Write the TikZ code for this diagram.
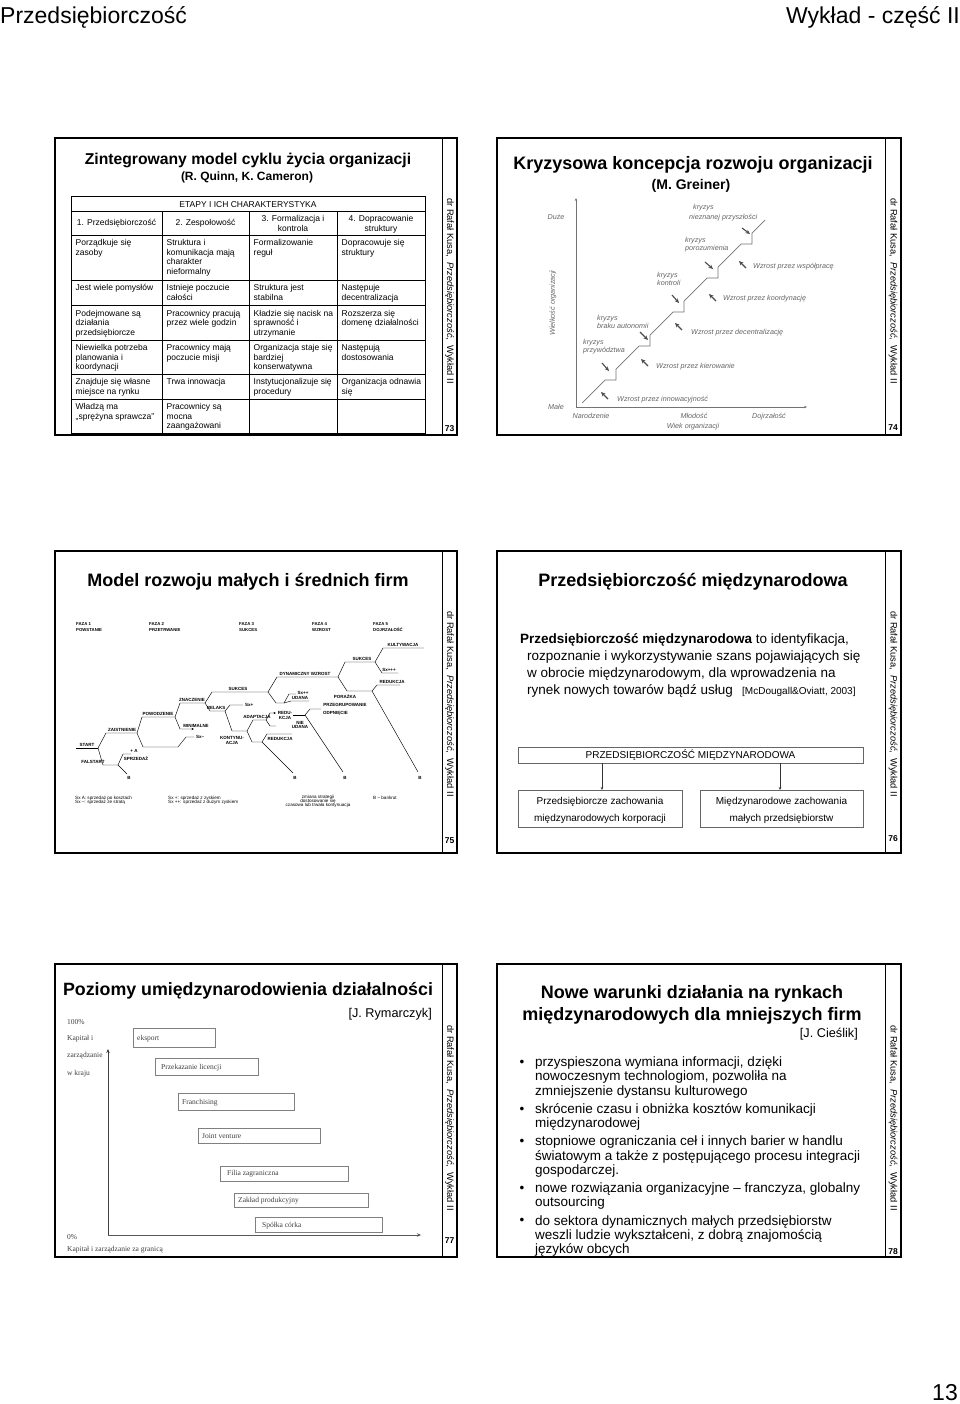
\documentclass[tikz,border=0pt]{standalone}
\usepackage{fontspec}
\setmainfont{Liberation Sans}
\newfontfamily\chartserif{Liberation Serif}
\usetikzlibrary{arrows.meta}
\newcommand{\fsz}[2]{\fontsize{#1}{#2}\selectfont}
\newcommand{\sr}[1]{\rule{0pt}{#1}}
\begin{document}
\begin{tikzpicture}[x=1pt,y=-1pt,
  slideframe/.style={draw=black,line width=1.1pt},
  divline/.style={draw=black,line width=1pt},
  sidebar/.style={rotate=-90,anchor=west,inner sep=0pt,font=\fsz{9.3}{11}},
  slideno/.style={inner sep=0pt,font=\bfseries\fsz{8.5}{10}},
  stitle/.style={anchor=base,inner sep=0pt,font=\bfseries\fsz{18}{21}},
  tbl/.style={draw=black,line width=0.7pt},
  cell/.style={anchor=north west,inner sep=0pt,align=left,font=\fsz{8.5}{9.6}},
  hcell/.style={anchor=north,inner sep=0pt,align=center,font=\fsz{8.5}{10.2}},
  glabel/.style={anchor=base west,inner sep=0pt,font=\itshape\fsz{7.2}{8},text=black!60},
  gaxis/.style={draw=black!55,line width=0.6pt},
  garrow/.style={draw=black!70,line width=1.1pt,-{Stealth[length=4.5pt,width=4pt]}},
  treeln/.style={draw=black,line width=0.45pt},
  tlab/.style={anchor=base,inner sep=0pt,font=\bfseries\fsz{4.5}{5.2}},
  fnote/.style={anchor=base west,inner sep=0pt,font=\fsz{4.6}{4.6}},
  para/.style={anchor=base west,inner sep=0pt,font=\fsz{13.5}{16}},
  ibox/.style={draw=black!60,line width=0.6pt},
  iboxtext/.style={anchor=base,inner sep=0pt,font=\fsz{10}{12}},
  rbox/.style={draw=black!50,line width=0.5pt},
  rtext/.style={anchor=base west,inner sep=0pt,font=\chartserif\fsz{7.5}{9},text=black!75},
  bultext/.style={anchor=north west,inner sep=0pt,align=left,font=\fsz{13.5}{14.2}},
  bdot/.style={anchor=base,inner sep=0pt,font=\fsz{13.5}{14.2}},
]
\useasboundingbox (0,0) rectangle (960,1404);
\fill[white] (0,0) rectangle (960,1404);

% ---------- header / footer
\node[anchor=base west,inner sep=0pt,font=\fsz{23}{26}] (hdrL) at (0,24) {Przedsiębiorczość};
\node[anchor=base east,inner sep=0pt,font=\fsz{23}{26}] (hdrR) at (960,24) {Wykład - część II};
\node[anchor=base east,inner sep=0pt,font=\fsz{23}{26}] (pageno) at (958,1400) {13};

% ---------- slide frames
\draw[slideframe] (55,138) rectangle (457,435);  \draw[divline] (442,138) -- (442,435);
\draw[slideframe] (497,138) rectangle (901,435); \draw[divline] (885,138) -- (885,435);
\draw[slideframe] (55,551) rectangle (457,853);  \draw[divline] (442,551) -- (442,853);
\draw[slideframe] (497,551) rectangle (901,853); \draw[divline] (885,551) -- (885,853);
\draw[slideframe] (55,964) rectangle (457,1257); \draw[divline] (442,964) -- (442,1257);
\draw[slideframe] (497,964) rectangle (901,1257);\draw[divline] (885,964) -- (885,1257);

% sidebars
\node[sidebar] (sb73) at (449.5,198) {dr Rafał Kusa,\ \ \textit{Przedsiębiorczość},\ \ Wykład II};
\node[sidebar] (sb74) at (893,198) {dr Rafał Kusa,\ \ \textit{Przedsiębiorczość},\ \ Wykład II};
\node[sidebar] (sb75) at (449.5,611) {dr Rafał Kusa,\ \ \textit{Przedsiębiorczość},\ \ Wykład II};
\node[sidebar] (sb76) at (893,611) {dr Rafał Kusa,\ \ \textit{Przedsiębiorczość},\ \ Wykład II};
\node[sidebar] (sb77) at (449.5,1025) {dr Rafał Kusa,\ \ \textit{Przedsiębiorczość},\ \ Wykład II};
\node[sidebar] (sb78) at (893,1025) {dr Rafał Kusa,\ \ \textit{Przedsiębiorczość},\ \ Wykład II};
\node[slideno] (n73) at (449.5,429) {73};
\node[slideno] (n74) at (893,428) {74};
\node[slideno] (n75) at (449.5,841) {75};
\node[slideno] (n76) at (893,839) {76};
\node[slideno] (n77) at (449.5,1241) {77};
\node[slideno] (n78) at (893,1252) {78};

% ================= slide 73
\node[anchor=base,inner sep=0pt,font=\bfseries\fsz{15.7}{18}] (t73) at (248,165) {Zintegrowany model cyklu życia organizacji};
\node[anchor=base,inner sep=0pt,font=\bfseries\fsz{12}{14}] (st73) at (247,181) {(R. Quinn, K. Cameron)};
\draw[line width=1pt] (71,197) rectangle (425,433);
\foreach \yy in {211,235,280,305.5,340,374,399} \draw[tbl] (71,\yy) -- (425,\yy);
\foreach \xx in {162,249,337} \draw[tbl] (\xx,211) -- (\xx,433);
\node[anchor=base,inner sep=0pt,font=\fsz{8.5}{10}] (etapy) at (248,207.5) {ETAPY I ICH CHARAKTERYSTYKA};
\node[anchor=base,inner sep=0pt,font=\fsz{8.5}{10}] (h1) at (116.5,226) {1. Przedsiębiorczość};
\node[anchor=base,inner sep=0pt,font=\fsz{8.5}{10}] (h2) at (205.5,226) {2. Zespołowość};
\node[hcell] (h3) at (293,214) {\sr{7pt}3. Formalizacja i\\kontrola};
\node[hcell] (h4) at (381,214) {\sr{7pt}4. Dopracowanie\\struktury};

\node[cell] (r1c1) at (75.5,238.3) {\sr{7pt}Porządkuje się\\zasoby};
\node[cell] (r1c2) at (166.5,238.3) {\sr{7pt}Struktura i\\komunikacja mają\\charakter\\nieformalny};
\node[cell] (r1c3) at (253.5,238.3) {\sr{7pt}Formalizowanie\\reguł};
\node[cell] (r1c4) at (341.5,238.3) {\sr{7pt}Dopracowuje się\\struktury};
\node[cell] (r2c1) at (75.5,283.3) {\sr{7pt}Jest wiele pomysłów};
\node[cell] (r2c2) at (166.5,283.3) {\sr{7pt}Istnieje poczucie\\całości};
\node[cell] (r2c3) at (253.5,283.3) {\sr{7pt}Struktura jest\\stabilna};
\node[cell] (r2c4) at (341.5,283.3) {\sr{7pt}Następuje\\decentralizacja};
\node[cell] (r3c1) at (75.5,308.8) {\sr{7pt}Podejmowane są\\działania\\przedsiębiorcze};
\node[cell] (r3c2) at (166.5,308.8) {\sr{7pt}Pracownicy pracują\\przez wiele godzin};
\node[cell] (r3c3) at (253.5,308.8) {\sr{7pt}Kładzie się nacisk na\\sprawność i\\utrzymanie};
\node[cell] (r3c4) at (341.5,308.8) {\sr{7pt}Rozszerza się\\domenę działalności};
\node[cell] (r4c1) at (75.5,343.3) {\sr{7pt}Niewielka potrzeba\\planowania i\\koordynacji};
\node[cell] (r4c2) at (166.5,343.3) {\sr{7pt}Pracownicy mają\\poczucie misji};
\node[cell] (r4c3) at (253.5,343.3) {\sr{7pt}Organizacja staje się\\bardziej\\konserwatywna};
\node[cell] (r4c4) at (341.5,343.3) {\sr{7pt}Następują\\dostosowania};
\node[cell] (r5c1) at (75.5,377.3) {\sr{7pt}Znajduje się własne\\miejsce na rynku};
\node[cell] (r5c2) at (166.5,377.3) {\sr{7pt}Trwa innowacja};
\node[cell] (r5c3) at (253.5,377.3) {\sr{7pt}Instytucjonalizuje się\\procedury};
\node[cell] (r5c4) at (341.5,377.3) {\sr{7pt}Organizacja odnawia\\się};
\node[cell] (r6c1) at (75.5,402.3) {\sr{7pt}Władzą ma\\„sprężyna sprawcza”};
\node[cell] (r6c2) at (166.5,402.3) {\sr{7pt}Pracownicy są\\mocna\\zaangażowani};

% ================= slide 74
\node[stitle] (t74) at (693,170) {Kryzysowa koncepcja rozwoju organizacji};
\node[anchor=base,inner sep=0pt,font=\bfseries\fsz{14}{16}] (st74) at (691,190) {(M. Greiner)};
\coordinate (o74) at (576,407);
\coordinate (ytop74) at (576,198);
\coordinate (xend74) at (807,407);
\draw[gaxis,-{Stealth[length=3pt,width=2.5pt]}] (o74) -- (ytop74);
\draw[gaxis,-{Stealth[length=3pt,width=2.5pt]}] (o74) -- (xend74);
\draw[draw=black!55,line width=0.7pt] (582,403) -- (605,380) -- (616,380) -- (616,369) -- (639,346) -- (650,346) -- (650,335) -- (673,312) -- (684,312) -- (684,301) -- (707,278) -- (718,278) -- (718,267) -- (741,244) -- (752,244) -- (752,233) -- (765,220);
\node[anchor=base,inner sep=0pt,font=\itshape\fsz{7.2}{8},text=black!60] (duze) at (556,219.2) {Duże};
\node[anchor=base,inner sep=0pt,font=\itshape\fsz{7.2}{8},text=black!60] (male) at (556,409.2) {Małe};
\node[rotate=90,inner sep=0pt,font=\itshape\fsz{7.2}{8},text=black!60] (wielk) at (553,303) {Wielkość organizacji};
\node[anchor=base,inner sep=0pt,font=\itshape\fsz{7.2}{8},text=black!60] (narodz) at (591,418.5) {Narodzenie};
\node[anchor=base,inner sep=0pt,font=\itshape\fsz{7.2}{8},text=black!60] (mlod) at (694,418.5) {Młodość};
\node[anchor=base,inner sep=0pt,font=\itshape\fsz{7.2}{8},text=black!60] (dojrz) at (769,418.5) {Dojrzałość};
\node[anchor=base,inner sep=0pt,font=\itshape\fsz{7.2}{8},text=black!60] (wiek) at (693,428.5) {Wiek organizacji};
\node[glabel] (k1a) at (583,344.2) {kryzys};
\node[glabel] (k1b) at (583,352.2) {przywództwa};
\node[glabel] (k2a) at (597,320.2) {kryzys};
\node[glabel] (k2b) at (597,328.2) {braku autonomii};
\node[glabel] (k3a) at (657,277.2) {kryzys};
\node[glabel] (k3b) at (657,285.2) {kontroli};
\node[glabel] (k4a) at (685,242.2) {kryzys};
\node[glabel] (k4b) at (685,250.2) {porozumienia};
\node[glabel] (k5a) at (693,209.2) {kryzys};
\node[glabel] (k5b) at (689,219.2) {nieznanej przyszłości};
\node[glabel] (w1) at (617,401.2) {Wzrost przez innowacyjność};
\node[glabel] (w2) at (656,368.2) {Wzrost przez kierowanie};
\node[glabel] (w3) at (691,334.2) {Wzrost przez decentralizację};
\node[glabel] (w4) at (723,300.2) {Wzrost przez koordynację};
\node[glabel] (w5) at (753,268.2) {Wzrost przez współpracę};
\draw[garrow] (602,363) -- (609,371);
\draw[garrow] (640,332) -- (648,340);
\draw[garrow] (672,295) -- (679,303);
\draw[garrow] (705,262) -- (713,269);
\draw[garrow] (742,228) -- (750,234);
\draw[garrow] (608,399) -- (601,392);
\draw[garrow] (648,366) -- (641,359);
\draw[garrow] (682,330) -- (675,323);
\draw[garrow] (716,301) -- (709,294);
\draw[garrow] (746,268) -- (739,261);

% ================= slide 75
\node[stitle] (t75) at (248,586) {Model rozwoju małych i średnich firm};
\node[anchor=north west,inner sep=0pt,align=left,font=\bfseries\fsz{4.3}{5.6}] (f1) at (76,622.3) {\sr{3.2pt}FAZA 1\\POWSTANIE};
\node[anchor=north west,inner sep=0pt,align=left,font=\bfseries\fsz{4.3}{5.6}] (f2) at (149,622.3) {\sr{3.2pt}FAZA 2\\PRZETRWANIE};
\node[anchor=north west,inner sep=0pt,align=left,font=\bfseries\fsz{4.3}{5.6}] (f3) at (239,622.3) {\sr{3.2pt}FAZA 3\\SUKCES};
\node[anchor=north west,inner sep=0pt,align=left,font=\bfseries\fsz{4.3}{5.6}] (f4) at (312,622.3) {\sr{3.2pt}FAZA 4\\WZROST};
\node[anchor=north west,inner sep=0pt,align=left,font=\bfseries\fsz{4.3}{5.6}] (f5) at (373,622.3) {\sr{3.2pt}FAZA 5\\DOJRZAŁOŚĆ};

\draw[treeln] (76,748) -- (98,748);
\draw[treeln] (98,748) -- (106,733) -- (137,733);
\draw[treeln] (98,748) -- (103,765) -- (118,765);
\draw[treeln] (118,765) -- (123,754) -- (131,754);
\draw[treeln] (118,765) -- (127,774);
\draw[treeln] (137,733) -- (142,717) -- (175,717);
\draw[treeln] (137,733) -- (143,747) -- (178,747) -- (186,737) -- (194,737);
\draw[treeln] (175,717) -- (180,703) -- (205,703);
\draw[treeln,-{Stealth[length=2.5pt,width=2.2pt]}] (175,717) -- (180,729) -- (194,729);
\draw[treeln] (205,703) -- (212,692) -- (268,692);
\draw[treeln] (205,703) -- (210,711) -- (225,711);
\draw[treeln] (225,711) -- (230,705) -- (243,705);
\draw[treeln] (225,711) -- (232,731) -- (247,731);
\draw[treeln,-{Stealth[length=2.5pt,width=2.2pt]}] (247,731) -- (253,720) -- (266,720) -- (270,713) -- (276,713);
\draw[treeln] (266,720) -- (270,726) -- (276,726);
\draw[treeln] (247,731) -- (252,742) -- (262,742);
\draw[treeln] (262,742) -- (267,734) -- (292,734);
\draw[treeln] (262,742) -- (293,773);
\draw[treeln] (268,692) -- (277,677) -- (338,677);
\draw[treeln] (268,692) -- (276,703) -- (284,703);
\draw[treeln] (284,703) -- (289,694) -- (296,694);
\draw[treeln] (284,703) -- (291,701) -- (309,701);
\draw[treeln] (293,715) -- (305,715);
\draw[treeln] (305,715) -- (310,709) -- (321,709);
\draw[treeln] (305,715) -- (343,772);
\draw[treeln] (338,677) -- (345,662) -- (375,662);
\draw[treeln] (375,662) -- (383,648) -- (424,648);
\draw[treeln] (375,662) -- (382,673) -- (398,673);
\draw[treeln] (338,677) -- (347,691) -- (372,691);
\draw[treeln] (372,691) -- (377,685) -- (400,685);
\draw[treeln] (372,691) -- (418,772);

\node[tlab] (lstart) at (87,746) {START};
\node[tlab] (lzaist) at (122,731) {ZAISTNIENIE};
\node[tlab] (lfals) at (93,763.5) {FALSTART};
\node[tlab] (lplusa) at (134,752) {+ A};
\node[tlab] (lsprz) at (136,760) {SPRZEDAŻ};
\node[tlab] (lb1) at (129,779.5) {B};
\node[tlab] (lpowo) at (158,715.5) {POWODZENIE};
\node[tlab,anchor=base west] (lsxm) at (196,738.5) {Sx–};
\node[tlab] (lznacz) at (192,701.5) {ZNACZENIE};
\node[tlab] (lmini) at (196,727) {MINIMALNE};
\node[tlab] (lsukc1) at (238,690) {SUKCES};
\node[tlab] (lrelaks) at (216,709.5) {RELAKS};
\node[tlab,anchor=base west] (lsxp) at (245,706.5) {Sx+};
\node[tlab] (ladapt) at (257,718) {ADAPTACJA};
\node[anchor=north,inner sep=0pt,align=center,font=\bfseries\fsz{4.5}{5}] (lkont) at (232,736) {\sr{3.3pt}KONTYNU-\\ACJA};
\node[tlab] (lred1) at (280,740.5) {REDUKCJA};
\node[tlab] (lb2) at (295,779.5) {B};
\node[tlab] (ldyn) at (305,675) {DYNAMICZNY WZROST};
\node[tlab] (lsxpp) at (303,694.5) {Sx++};
\node[tlab] (ludana) at (300,699.5) {UDANA};
\node[anchor=north,inner sep=0pt,align=center,font=\bfseries\fsz{4.5}{4.6}] (lredk) at (285,711.3) {\sr{3.3pt}REDU-\\KCJA};
\node[anchor=north,inner sep=0pt,align=center,font=\bfseries\fsz{4.5}{4.6}] (lnie) at (300,720.5) {\sr{3.3pt}NIE\\UDANA};
\node[anchor=north,inner sep=0pt,align=center,font=\bfseries\fsz{4.5}{7.5}] (lpor) at (345,694.5) {\sr{3.3pt}PORAŻKA\\PRZEGRUPOWANIE};
\node[tlab,anchor=base west] (lodp) at (323,714) {ODPNIĘCIE};
\node[tlab] (lb3) at (345,779.5) {B};
\node[tlab] (lsukc2) at (362,660.5) {SUKCES};
\node[tlab] (lkult) at (403,646.5) {KULTYWACJA};
\node[tlab] (lsxppp) at (389,671.5) {Sx+++};
\node[tlab] (lred2) at (392,683.5) {REDUKCJA};
\node[tlab] (lb4) at (420,779.5) {B};

\node[fnote] (fn1) at (75,799) {Sx A: sprzedaż po kosztach};
\node[fnote] (fn2) at (75,803.5) {Sx –: sprzedaż ze stratą};
\node[fnote] (fn3) at (168,799) {Sx +: sprzedaż z zyskiem};
\node[fnote] (fn4) at (168,803.5) {Sx ++: sprzedaż z dużym zyskiem};
\node[fnote,anchor=base] (fn5) at (318,798.5) {zmiana strategii};
\node[fnote,anchor=base] (fn6) at (318,802.5) {dostosowanie się};
\node[fnote,anchor=base] (fn7) at (318,806.5) {czasowa lub trwała kontynuacja};
\node[fnote] (fn8) at (373,799) {B – bankrut};

% ================= slide 76
\node[stitle] (t76) at (693,586) {Przedsiębiorczość międzynarodowa};
\node[para] (p1) at (520,643) {\textbf{Przedsiębiorczość międzynarodowa} to identyfikacja,};
\node[para] (p2) at (527,660) {rozpoznanie i wykorzystywanie szans pojawiających się};
\node[para] (p3) at (527,677) {w obrocie międzynarodowym, dla wprowadzenia na};
\node[para] (p4) at (527,694) {rynek nowych towarów bądź usług};
\node[anchor=base west,inner sep=0pt,font=\fsz{10}{12}] (cite76) at (742,694) {[McDougall\&Oviatt, 2003]};
\draw[ibox] (518,747) rectangle (863,763);
\node[iboxtext] (pm) at (690.5,758.6) {PRZEDSIĘBIORCZOŚĆ MIĘDZYNARODOWA};
\draw[ibox] (518,790) rectangle (682,827);
\draw[ibox] (700,790) rectangle (863,827);
\coordinate (a1s) at (602,763); \coordinate (a1e) at (602,790);
\coordinate (a2s) at (780,763); \coordinate (a2e) at (780,790);
\draw[black!80,line width=0.5pt,-{Stealth[length=3pt,width=2.5pt]}] (a1s) -- (a1e);
\draw[black!80,line width=0.5pt,-{Stealth[length=3pt,width=2.5pt]}] (a2s) -- (a2e);
\node[iboxtext] (bl1) at (600,804.5) {Przedsiębiorcze zachowania};
\node[iboxtext] (bl2) at (600,821.5) {międzynarodowych korporacji};
\node[iboxtext] (br1) at (781.5,804.5) {Międzynarodowe zachowania};
\node[iboxtext] (br2) at (781.5,821.5) {małych przedsiębiorstw};

% ================= slide 77
\node[anchor=base,inner sep=0pt,font=\bfseries\fsz{17.8}{21}] (t77) at (248,995) {Poziomy umiędzynarodowienia działalności};
\node[anchor=base east,inner sep=0pt,font=\fsz{12.7}{15}] (cit77) at (432,1017) {[J. Rymarczyk]};
\coordinate (o77) at (108,1235);
\coordinate (yt77) at (108,1049);
\coordinate (xe77) at (421,1235);
\draw[black!75,line width=0.7pt,-{Stealth[length=4pt,width=3.5pt]}] (o77) -- (yt77);
\draw[black!65,line width=0.6pt,-{Stealth[length=4pt,width=3.5pt]}] (o77) -- (xe77);
\node[rtext] (y100) at (67,1024.5) {100\%};
\node[rtext] (yk1) at (67,1040.5) {Kapitał i};
\node[rtext] (yk2) at (67,1057.5) {zarządzanie};
\node[rtext] (yk3) at (67,1075.5) {w kraju};
\node[rtext] (y0) at (67,1239.5) {0\%};
\node[rtext] (xk) at (67,1251.5) {Kapitał i zarządzanie za granicą};
\draw[rbox] (133,1028) rectangle (215,1047);
\node[rtext] (b1) at (137,1040) {eksport};
\draw[rbox] (155,1058) rectangle (258,1075);
\node[rtext] (b2) at (161,1069.5) {Przekazanie licencji};
\draw[rbox] (178,1093) rectangle (294,1110);
\node[rtext] (b3) at (182,1104.5) {Franchising};
\draw[rbox] (198,1128) rectangle (320,1143);
\node[rtext] (b4) at (202,1138.5) {Joint venture};
\draw[rbox] (220,1166) rectangle (348,1181);
\node[rtext] (b5) at (227,1175.5) {Filia zagraniczna};
\draw[rbox] (234,1193) rectangle (368,1207);
\node[rtext] (b6) at (238,1202.5) {Zakład produkcyjny};
\draw[rbox] (255,1217) rectangle (382,1232);
\node[rtext] (b7) at (262,1227.5) {Spółka córka};

% ================= slide 78
\node[stitle] (t78a) at (692,998) {Nowe warunki działania na rynkach};
\node[stitle] (t78b) at (692,1020) {międzynarodowych dla mniejszych firm};
\node[anchor=base east,inner sep=0pt,font=\fsz{12.7}{15}] (cit78) at (858,1037) {[J. Cieślik]};
\node[bdot] (d1) at (522,1066.5) {•};
\node[bultext] (bu1) at (535,1056.5) {\sr{10pt}przyspieszona wymiana informacji, dzięki\\nowoczesnym technologiom, pozwoliła na\\zmniejszenie dystansu kulturowego};
\node[bdot] (d2) at (522,1113.2) {•};
\node[bultext] (bu2) at (535,1103.2) {\sr{10pt}skrócenie czasu i obniżka kosztów komunikacji\\międzynarodowej};
\node[bdot] (d3) at (522,1145.7) {•};
\node[bultext] (bu3) at (535,1135.7) {\sr{10pt}stopniowe ograniczania ceł i innych barier w handlu\\światowym a także z postępującego procesu integracji\\gospodarczej.};
\node[bdot] (d4) at (522,1192.4) {•};
\node[bultext] (bu4) at (535,1182.4) {\sr{10pt}nowe rozwiązania organizacyjne – franczyza, globalny\\outsourcing};
\node[bdot] (d5) at (522,1224.9) {•};
\node[bultext] (bu5) at (535,1214.9) {\sr{10pt}do sektora dynamicznych małych przedsiębiorstw\\weszli ludzie wykształceni, z dobrą znajomością\\języków obcych};
\end{tikzpicture}
\end{document}
